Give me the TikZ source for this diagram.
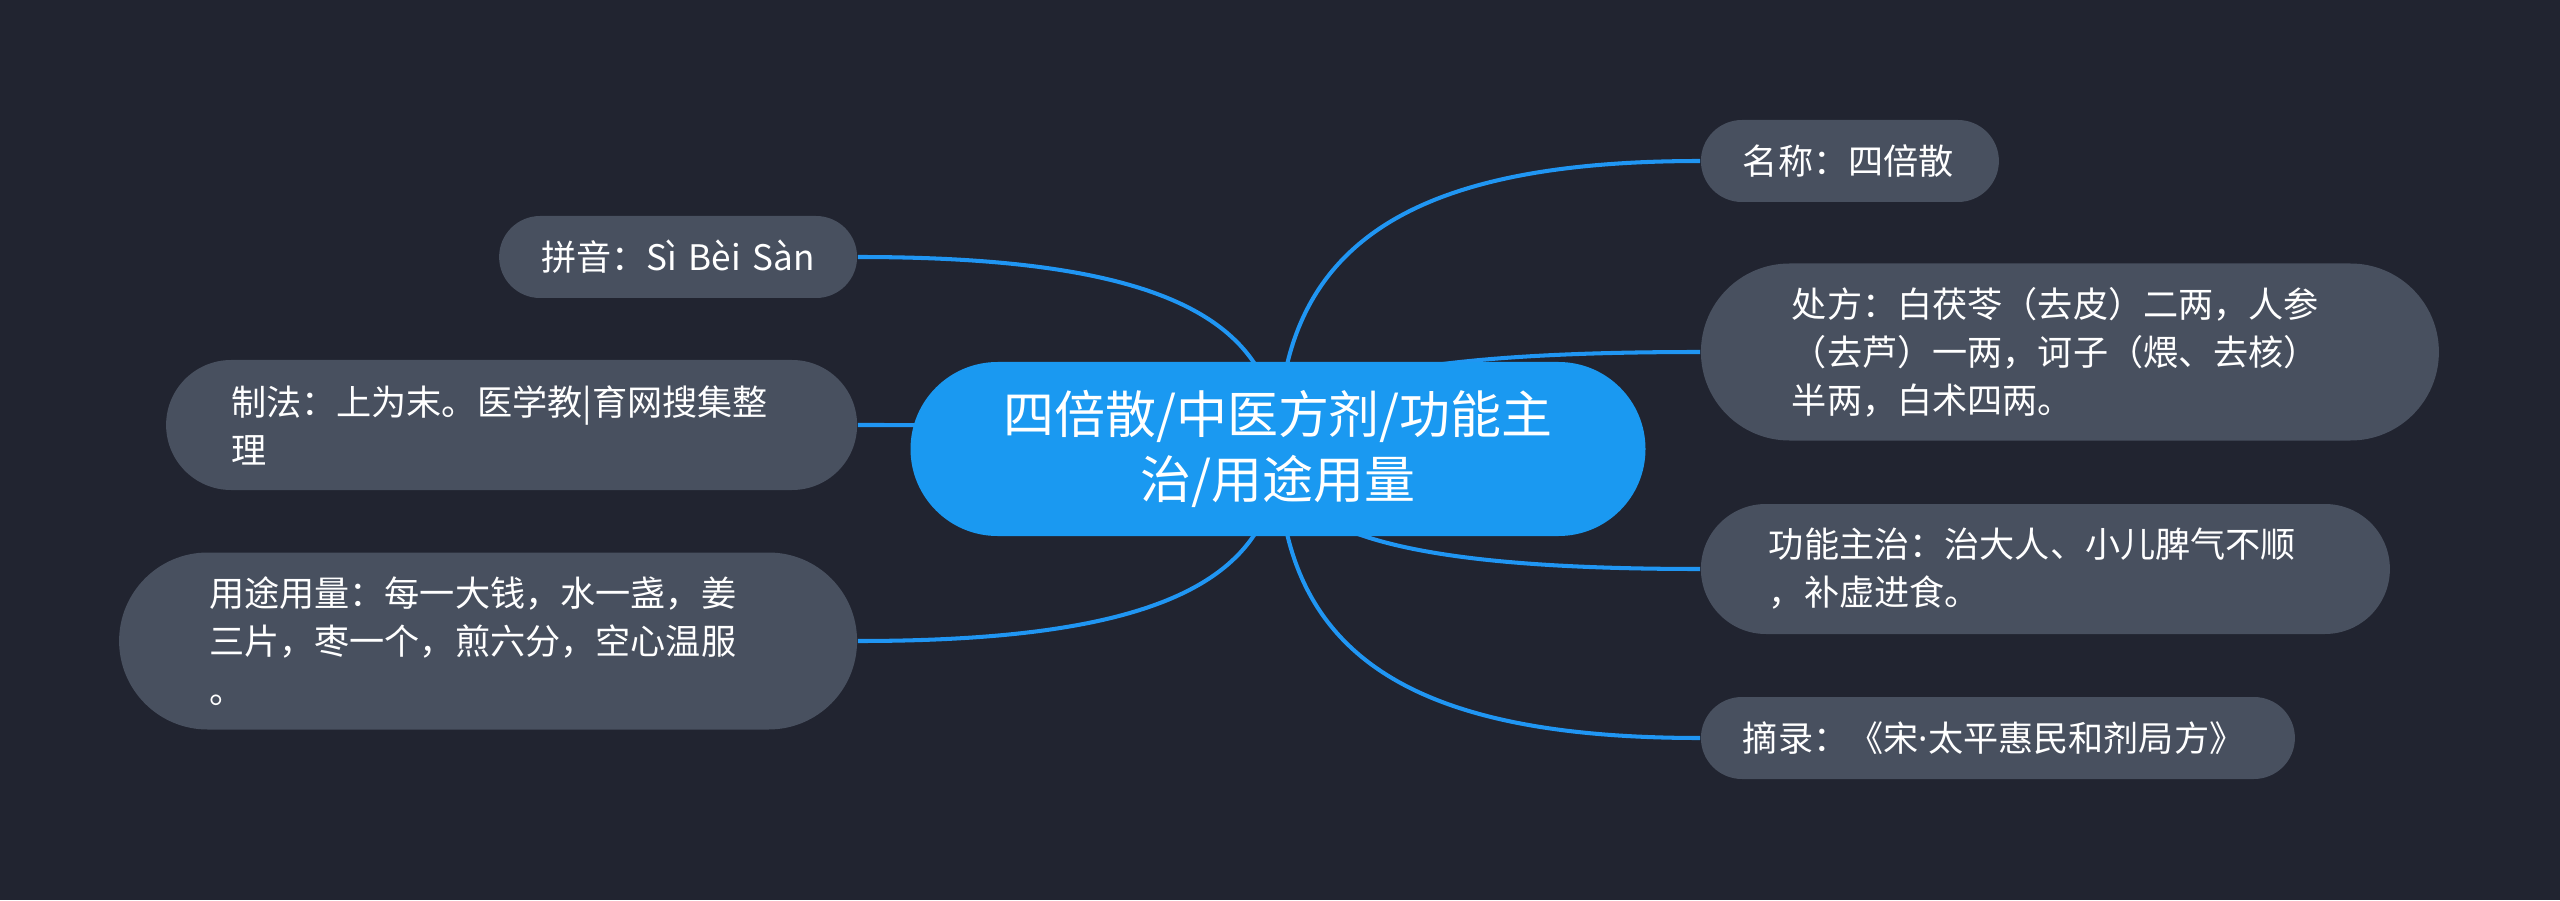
\documentclass[tikz,border=0pt]{standalone}
\usepackage{fontspec}
\newfontfamily\cjkfont{Noto Sans CJK SC}
\newfontfamily\dotfont{Noto Sans}
\usepackage{tikz}
\usetikzlibrary{positioning,backgrounds,calc}
\definecolor{bgdark}{RGB}{33,36,48}
\definecolor{leafgray}{RGB}{72,80,95}
\definecolor{rootblue}{RGB}{26,153,241}
\definecolor{linkblue}{RGB}{32,150,243}

\begin{document}
\begin{tikzpicture}[
            root_node/.style={
                rectangle, fill=rootblue, text=white, align=center,
                minimum width=7.35cm, minimum height=1.74cm, rounded corners=0.87cm,
                font=\cjkfont\fontsize{14.5pt}{18.5pt}\selectfont
            },
            leaf_node/.style={
                rectangle, fill=leafgray, text=white, align=left, inner ysep=0pt,
                font=\cjkfont\fontsize{10pt}{13.7pt}\selectfont
            },
            pill_s/.style={minimum height=0.82cm, rounded corners=0.41cm},
            pill_m/.style={minimum height=1.30cm, rounded corners=0.65cm},
            pill_l/.style={minimum height=1.77cm, rounded corners=0.885cm},
            link_style/.style={linkblue, line width=1.15pt}
        ]
        \useasboundingbox (0,0) rectangle (25.6,9);

        % Central topic
        \node[root_node] (root) at (12.78,4.51) {四倍散/中医方剂/功能主\\治/用途用量};

        % Right branches
        \node[leaf_node, pill_s, text width=2.14cm, inner xsep=0.42cm,
              right=0.54cm of root, yshift=2.88cm] (name) {名称：四倍散};
        \node[leaf_node, pill_l, text width=5.56cm, inner xsep=0.91cm,
              right=0.54cm of root, yshift=0.97cm] (recipe)
              {处方：白茯苓（去皮）二两，人参\\（去芦）一两，诃子（煨、去核）\\半两，白术四两。};
        \node[leaf_node, pill_m, text width=5.53cm, inner xsep=0.68cm,
              right=0.54cm of root, yshift=-1.20cm] (effect)
              {功能主治：治大人、小儿脾气不顺\\，补虚进食。};
        \node[leaf_node, pill_s, text width=5.10cm, inner xsep=0.42cm,
              right=0.54cm of root, yshift=-2.89cm] (source) {摘录：《宋{\dotfont ·}太平惠民和剂局方》};

        % Left branches
        \node[leaf_node, pill_s, text width=2.74cm, inner xsep=0.42cm,
              left=0.52cm of root, yshift=1.92cm] (pinyin) {拼音：Sì~Bèi~Sàn};
        \node[leaf_node, pill_m, text width=5.61cm, inner xsep=0.65cm,
              left=0.52cm of root, yshift=0.24cm] (method)
              {制法：上为末。医学教|育网搜集整\\理};
        \node[leaf_node, pill_l, text width=5.58cm, inner xsep=0.90cm,
              left=0.52cm of root, yshift=-1.92cm] (usage)
              {用途用量：每一大钱，水一盏，姜\\三片，枣一个，煎六分，空心温服\\。};

        % Background and links (behind the nodes)
        \begin{scope}[on background layer]
            \fill[bgdark] (0,0) rectangle (25.6,9);
            \draw[link_style] (root.center) .. controls ($(root.center)!0.7!(root.center |- name.west)$) and ($(name.west)!0.7!(root.center |- name.west)$) .. (name.west);
            \draw[link_style] (root.center) .. controls ($(root.center)!0.7!(root.center |- recipe.west)$) and ($(recipe.west)!0.7!(root.center |- recipe.west)$) .. (recipe.west);
            \draw[link_style] (root.center) .. controls ($(root.center)!0.7!(root.center |- effect.west)$) and ($(effect.west)!0.7!(root.center |- effect.west)$) .. (effect.west);
            \draw[link_style] (root.center) .. controls ($(root.center)!0.7!(root.center |- source.west)$) and ($(source.west)!0.7!(root.center |- source.west)$) .. (source.west);
            \draw[link_style] (root.center) .. controls ($(root.center)!0.7!(root.center |- pinyin.east)$) and ($(pinyin.east)!0.7!(root.center |- pinyin.east)$) .. (pinyin.east);
            \draw[link_style] (root.center) .. controls ($(root.center)!0.7!(root.center |- method.east)$) and ($(method.east)!0.7!(root.center |- method.east)$) .. (method.east);
            \draw[link_style] (root.center) .. controls ($(root.center)!0.7!(root.center |- usage.east)$) and ($(usage.east)!0.7!(root.center |- usage.east)$) .. (usage.east);
        \end{scope}
        \end{tikzpicture}
\end{document}
